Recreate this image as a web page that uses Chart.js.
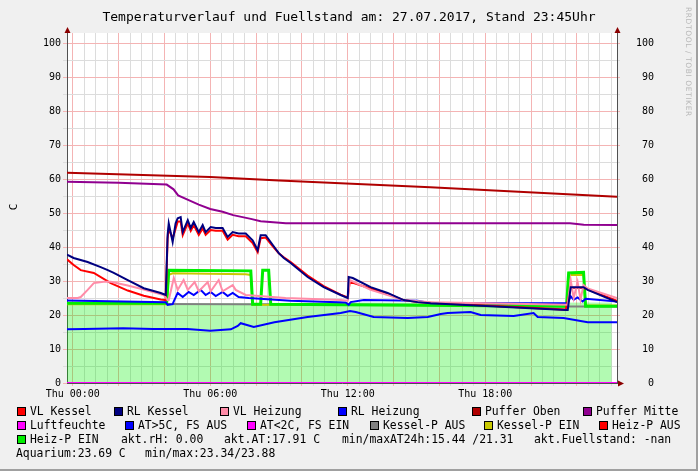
<!DOCTYPE html>
<html>
<head>
<meta charset="utf-8">
<script src="https://cdn.jsdelivr.net/npm/chart.js@4.4.1/dist/chart.umd.min.js"></script>
<style>
    html, body { margin: 0; padding: 0; background: #f0f0f0; }
    #wrap { position: relative; width: 698px; height: 471px; background: #f0f0f0; overflow: hidden;
            font-family: 'DejaVu Sans Mono', monospace; color: #000; }
    #c { position: absolute; left: 0; top: 0; }
    .title { position: absolute; left: 0; top: 10px; width: 698px; text-align: center;
             font-size: 13px; line-height: 14px; white-space: pre; }
    .ylab { position: absolute; left: 4px; top: 200px; width: 20px; height: 14px; line-height: 14px;
            text-align: center; font-size: 11px; transform: rotate(-90deg); }
    .wm { position: absolute; left: 684px; top: 7px; font-family: 'DejaVu Sans', sans-serif; font-size: 7.5px;
          color: #b8b8b8; writing-mode: vertical-rl; letter-spacing: 0.6px; white-space: pre; }
    .lg { position: absolute; font-size: 11.4px; line-height: 14px; white-space: pre; }
    .bx { position: absolute; width: 7px; height: 7px; border: 1px solid #000; }
    .shR { position: absolute; right: 0; top: 0; width: 2px; height: 471px; background: #a0a0a0; }
    .shB { position: absolute; left: 0; bottom: 0; width: 698px; height: 2px; background: #a0a0a0; }
</style>
</head>
<body>
<div id="wrap">
    <canvas id="c" width="698" height="471"></canvas>
    <div class="title">Temperaturverlauf und Fuellstand am: 27.07.2017, Stand 23:45Uhr</div>
    <div class="ylab">C</div>
    <div class="wm">RRDTOOL / TOBI OETIKER</div>
    <div id="legend"></div>
    <div class="shR"></div>
    <div class="shB"></div>
</div>
<script>
(function () {
    'use strict';

    // time axis in hours since Thu 00:00
    var T_START = -0.25;
    var T_END = 23.75;
    var xLabelHours = [0, 6, 12, 18];
    var xLabelText = ['Thu 00:00', 'Thu 06:00', 'Thu 12:00', 'Thu 18:00'];
    var yLabelValues = [0, 10, 20, 30, 40, 50, 60, 70, 80, 90, 100];

    // --- series (hours, degrees) ---
    var pufferObenT = [-0.25, 6, 9, 15.6, 23.75];
    var pufferObenV = [61.9, 60.6, 59.6, 57.6, 54.8];

    var pufferMitteT = [-0.25, 2, 4.1, 4.4, 4.6, 5.06, 5.5, 6.0, 6.54, 7.0, 7.77, 8.2, 9.3, 15, 21.7, 22.3, 23.75];
    var pufferMitteV = [59.2, 58.9, 58.4, 57.0, 55.2, 53.8, 52.5, 51.2, 50.4, 49.4, 48.3, 47.6, 47.0, 47.0, 47.0, 46.6, 46.5];

    var rlKesselT = [-0.25, 0.04, 0.65, 1.22, 1.53, 1.79, 2.4, 3.1, 3.84, 4.06, 4.14, 4.19, 4.36, 4.49, 4.58, 4.71,
        4.8, 5.02, 5.15, 5.28, 5.5, 5.67, 5.8, 6.02, 6.24, 6.54, 6.76, 6.98, 7.24, 7.55, 7.85, 8.07, 8.2, 8.42,
        8.73, 8.99, 9.21, 9.51, 10.25, 10.95, 11.69, 12.0, 12.04, 12.22, 13.0, 13.74, 14.44, 15.05, 15.62,
        21.51, 21.6, 21.73, 22.29, 22.47, 23.75];
    var rlKesselV = [37.8, 36.8, 35.6, 34.1, 33.2, 32.4, 30.3, 27.9, 26.5, 25.9, 43.5, 47.0, 41.5, 47.0, 48.5, 48.8,
        44.4, 47.9, 45.6, 47.4, 44.4, 46.5, 44.4, 45.9, 45.6, 45.6, 43.0, 44.4, 44.0, 44.0, 42.0, 39.1, 43.5, 43.5,
        40.6, 38.2, 36.8, 35.3, 31.2, 28.2, 25.9, 25.0, 31.2, 30.9, 28.2, 26.5, 24.4, 23.8, 23.5,
        21.5, 21.5, 28.2, 28.2, 27.4, 23.8];

    var vlKesselT = [-0.25, 0.04, 0.35, 0.92, 1.66, 2.4, 3.1, 3.84, 4.06, 4.14, 4.19, 4.36, 4.58, 4.71, 4.8, 5.02,
        5.15, 5.28, 5.5, 5.67, 5.8, 6.02, 6.24, 6.54, 6.76, 6.98, 7.24, 7.55, 7.85, 8.07, 8.2, 8.42, 8.73, 8.99,
        9.21, 9.51, 10.25, 10.95, 11.69, 12.0, 12.09, 13.0, 13.74, 14.44, 15.05, 15.62, 21.51, 21.73, 22.29, 23.75];
    var vlKesselV = [36.4, 34.7, 33.2, 32.4, 29.4, 27.2, 25.7, 24.6, 24.4, 42.5, 45.5, 42.5, 47.5, 47.5, 43.5, 47.0,
        44.8, 46.5, 43.6, 45.5, 43.6, 45.0, 44.8, 44.8, 42.2, 43.6, 43.2, 43.2, 41.2, 38.5, 42.6, 42.8, 40.2, 38.2,
        37.0, 35.6, 31.6, 28.5, 26.0, 25.2, 29.8, 27.8, 26.2, 24.4, 23.8, 23.6, 21.6, 28.0, 28.0, 24.2];

    var vlHeizungT = [-0.25, 0.22, 0.35, 0.65, 0.92, 1.35, 1.66, 2.4, 3.1, 3.97, 4.14, 4.19, 4.41, 4.58, 4.84, 5.02,
        5.32, 5.5, 5.89, 6.02, 6.37, 6.54, 6.98, 7.11, 7.55, 9.29, 11.69, 12.0, 12.09, 13.0, 13.74, 14.44, 15.62,
        21.6, 21.73, 21.86, 22.03, 22.16, 22.29, 22.47, 23.75];
    var vlHeizungV = [25.0, 25.0, 25.3, 27.4, 29.4, 29.8, 29.8, 28.7, 27.5, 25.9, 24.4, 24.4, 30.9, 27.4, 30.3, 27.4,
        29.7, 27.0, 29.7, 27.0, 30.3, 27.0, 28.8, 27.4, 25.9, 25.0, 24.4, 24.2, 30.3, 27.4, 25.9, 24.4, 23.8,
        23.0, 30.3, 25.0, 29.7, 24.5, 28.8, 27.8, 25.0];

    var rlHeizungT = [-0.25, 4.06, 4.14, 4.36, 4.41, 4.58, 4.8, 5.06, 5.28, 5.58, 5.8, 6.02, 6.24, 6.54, 6.76, 6.98,
        7.24, 7.68, 9.5, 11.91, 12.04, 12.13, 12.7, 15.05, 15.62, 21.6, 21.73, 21.86, 22.03, 22.25, 22.38, 23.75];
    var rlHeizungV = [24.3, 23.8, 23.0, 23.2, 24.0, 26.5, 25.3, 26.8, 25.9, 27.4, 25.9, 26.8, 25.6, 26.8, 25.6, 26.5,
        25.3, 25.0, 24.2, 23.7, 23.0, 23.8, 24.4, 24.2, 23.5, 23.5, 25.5, 24.5, 25.2, 24.0, 24.8, 24.0];

    var aussenT = [-0.25, 0.5, 2.2, 3.5, 5.0, 6.0, 6.9, 7.2, 7.33, 7.9, 8.8, 10.25, 11.69, 12.1, 12.35, 13.13,
        14.62, 15.49, 16.06, 16.36, 17.36, 17.8, 19.24, 20.11, 20.29, 21.42, 22.47, 23.75];
    var aussenV = [15.8, 15.9, 16.1, 15.9, 15.9, 15.4, 15.8, 16.8, 17.6, 16.5, 17.9, 19.4, 20.6, 21.2, 20.9, 19.4,
        19.1, 19.4, 20.3, 20.6, 20.9, 20.0, 19.7, 20.6, 19.4, 19.1, 17.9, 17.9];

    var heizPEinT = [-0.25, 4.1, 4.19, 7.77, 7.85, 8.2, 8.29, 8.55, 8.64, 21.55, 21.64, 22.29, 22.38, 23.75];
    var heizPEinV = [23.5, 23.5, 33.2, 33.0, 23.2, 23.2, 33.2, 33.2, 23.2, 22.6, 32.4, 32.6, 22.6, 22.6];

    var kesselPEinT = [-0.25, 4.1, 4.19, 4.36, 7.55, 7.77, 7.85, 21.55, 21.64, 22.29, 22.38, 23.75];
    var kesselPEinV = [23.2, 23.2, 31.8, 32.3, 32.0, 31.8, 23.0, 22.8, 31.8, 31.8, 22.8, 22.8];

    var kesselPAusT = [-0.25, 15, 21.55, 23.75];
    var kesselPAusV = [23.3, 23.0, 22.5, 22.5];

    var luftfeuchteT = [-0.25, 23.75];
    var luftfeuchteV = [0, 0];

    var aquariumT = [-0.25, 6, 12, 18, 23.52];
    var aquariumV = [23.5, 23.4, 23.7, 23.6, 23.7];

    // --- styles ---
    var MAJOR = '#f4b4b4';
    var MINOR = '#dcdcdc';
    var AXIS = '#505050';
    var ARROW = '#8b0000';

    Chart.defaults.font.family = "'DejaVu Sans Mono', monospace";
    Chart.defaults.color = '#000';

    function pts(t, v) {
        return t.map(function (x, i) { return { x: x, y: v[i] }; });
    }

    function line(label, t, v, color, width, order) {
        return {
            label: label,
            data: pts(t, v),
            borderColor: color,
            backgroundColor: color,
            borderWidth: width,
            pointRadius: 0,
            tension: 0,
            fill: false,
            order: order
        };
    }

    // lower order is drawn on top
    var datasets = [
        line('Puffer Oben', pufferObenT, pufferObenV, '#b00000', 2, 0),
        line('Puffer Mitte', pufferMitteT, pufferMitteV, '#900090', 2, 1),
        line('RL Kessel', rlKesselT, rlKesselV, '#000080', 2, 2),
        line('VL Heizung', vlHeizungT, vlHeizungV, '#ff8ca8', 2, 3),
        line('VL Kessel', vlKesselT, vlKesselV, '#ff0000', 2, 4),
        line('RL Heizung', rlHeizungT, rlHeizungV, '#0000ff', 2, 5),
        line('Heiz-P EIN', heizPEinT, heizPEinV, '#00ee00', 3, 6),
        line('Kessel-P EIN', kesselPEinT, kesselPEinV, '#c8c800', 2, 7),
        line('Kessel-P AUS', kesselPAusT, kesselPAusV, '#808080', 2, 8),
        line('Luftfeuchte', luftfeuchteT, luftfeuchteV, '#ff00ff', 2, 9),
        line('AT', aussenT, aussenV, '#0000ff', 2, 10),
        {
            label: 'Aquarium',
            data: pts(aquariumT, aquariumV),
            borderColor: 'rgba(0,0,0,0)',
            borderWidth: 0,
            backgroundColor: 'rgba(0,238,0,0.3)',
            pointRadius: 0,
            tension: 0,
            fill: 'origin',
            order: 11
        }
    ];

    function gridColor(step) {
        return function (ctx) {
            if (!ctx.tick) { return MINOR; }
            return Math.abs(ctx.tick.value % step) < 1e-6 ? MAJOR : MINOR;
        };
    }

    function yTicks(scale) {
        var t = [];
        for (var v = 0; v <= 100; v += 5) { t.push({ value: v }); }
        scale.ticks = t;
    }

    function yLabel(v) {
        return yLabelValues.indexOf(v) >= 0 ? String(v) : '';
    }

    var frame = {
        id: 'rrdFrame',
        beforeDraw: function (chart) {
            var a = chart.chartArea;
            var ctx = chart.ctx;
            ctx.save();
            ctx.fillStyle = '#ffffff';
            ctx.fillRect(a.left, a.top, a.right - a.left, a.bottom - a.top);
            ctx.restore();
        },
        afterDraw: function (chart) {
            var a = chart.chartArea;
            var ctx = chart.ctx;
            ctx.save();
            ctx.fillStyle = ARROW;
            [a.left, a.right].forEach(function (x) {
                ctx.beginPath();
                ctx.moveTo(x + 0.5, a.top - 6);
                ctx.lineTo(x + 3.5, a.top);
                ctx.lineTo(x - 2.5, a.top);
                ctx.closePath();
                ctx.fill();
            });
            ctx.strokeStyle = AXIS;
            ctx.beginPath();
            ctx.moveTo(a.right, a.bottom + 0.5);
            ctx.lineTo(a.right + 3, a.bottom + 0.5);
            ctx.stroke();
            ctx.beginPath();
            ctx.moveTo(a.right + 7, a.bottom + 0.5);
            ctx.lineTo(a.right + 1, a.bottom - 2.5);
            ctx.lineTo(a.right + 1, a.bottom + 3.5);
            ctx.closePath();
            ctx.fill();
            ctx.restore();
        }
    };

    new Chart(document.getElementById('c').getContext('2d'), {
        type: 'line',
        data: { datasets: datasets },
        plugins: [frame],
        options: {
            responsive: false,
            animation: false,
            devicePixelRatio: 1,
            layout: { padding: { left: 0, right: 44, top: 33, bottom: 68 } },
            plugins: { legend: { display: false }, tooltip: { enabled: false } },
            scales: {
                x: {
                    type: 'linear',
                    min: T_START,
                    max: T_END,
                    afterBuildTicks: function (scale) {
                        var t = [];
                        for (var h = 0; h <= 23.5; h += 0.5) { t.push({ value: h }); }
                        scale.ticks = t;
                    },
                    afterFit: function (scale) { scale.height = 20; },
                    grid: { color: gridColor(2), tickLength: 3 },
                    border: { color: AXIS, width: 1 },
                    ticks: {
                        autoSkip: false, maxRotation: 0, minRotation: 0, padding: 2,
                        font: { size: 10 }, color: '#000',
                        callback: function (v) {
                            var i = xLabelHours.indexOf(v);
                            return i >= 0 ? xLabelText[i] : '';
                        }
                    }
                },
                y: {
                    position: 'left',
                    min: 0,
                    max: 103,
                    afterBuildTicks: yTicks,
                    afterFit: function (scale) { scale.width = 67; },
                    grid: { color: gridColor(10), tickLength: 4 },
                    border: { color: AXIS, width: 1 },
                    ticks: { padding: 2, font: { size: 10 }, color: '#000', callback: yLabel }
                },
                y2: {
                    position: 'right',
                    min: 0,
                    max: 103,
                    afterBuildTicks: yTicks,
                    afterFit: function (scale) { scale.width = 37; },
                    grid: { color: gridColor(10), tickLength: 3, drawOnChartArea: false },
                    border: { color: AXIS, width: 1 },
                    ticks: { padding: 16, crossAlign: 'far', font: { size: 10 }, color: '#000', callback: yLabel }
                }
            }
        }
    });

    // legend below the plot (RRD style)
    var ROW_TOP = [404, 418, 432, 446];
    var legendBoxes = [
        [0, 17, 'VL Kessel', '#ff0000'], [0, 114, 'RL Kessel', '#000080'], [0, 220, 'VL Heizung', '#ff8ca8'],
        [0, 338, 'RL Heizung', '#0000ff'], [0, 472, 'Puffer Oben', '#b00000'], [0, 583, 'Puffer Mitte', '#900090'],
        [1, 17, 'Luftfeuchte', '#ff00ff'], [1, 125, 'AT>5C, FS AUS', '#0000ff'], [1, 247, 'AT<2C, FS EIN', '#ff00ff'],
        [1, 370, 'Kessel-P AUS', '#808080'], [1, 484, 'Kessel-P EIN', '#c8c800'], [1, 599, 'Heiz-P AUS', '#ff0000'],
        [2, 17, 'Heiz-P EIN', '#00ee00']
    ];
    var legendTexts = [
        [2, 121, 'akt.rH: 0.00'], [2, 224, 'akt.AT:17.91 C'], [2, 342, 'min/maxAT24h:15.44 /21.31'],
        [2, 534, 'akt.Fuellstand: -nan'],
        [3, 16, 'Aquarium:23.69 C'], [3, 145, 'min/max:23.34/23.88']
    ];
    var host = document.getElementById('legend');
    legendBoxes.forEach(function (it) {
        var b = document.createElement('div');
        b.className = 'bx';
        b.style.left = it[1] + 'px';
        b.style.top = (ROW_TOP[it[0]] + 3) + 'px';
        b.style.background = it[3];
        host.appendChild(b);
        var s = document.createElement('div');
        s.className = 'lg';
        s.style.left = (it[1] + 13) + 'px';
        s.style.top = ROW_TOP[it[0]] + 'px';
        s.textContent = it[2];
        host.appendChild(s);
    });
    legendTexts.forEach(function (it) {
        var s = document.createElement('div');
        s.className = 'lg';
        s.style.left = it[1] + 'px';
        s.style.top = ROW_TOP[it[0]] + 'px';
        s.textContent = it[2];
        host.appendChild(s);
    });
})();
</script>
</body>
</html>
